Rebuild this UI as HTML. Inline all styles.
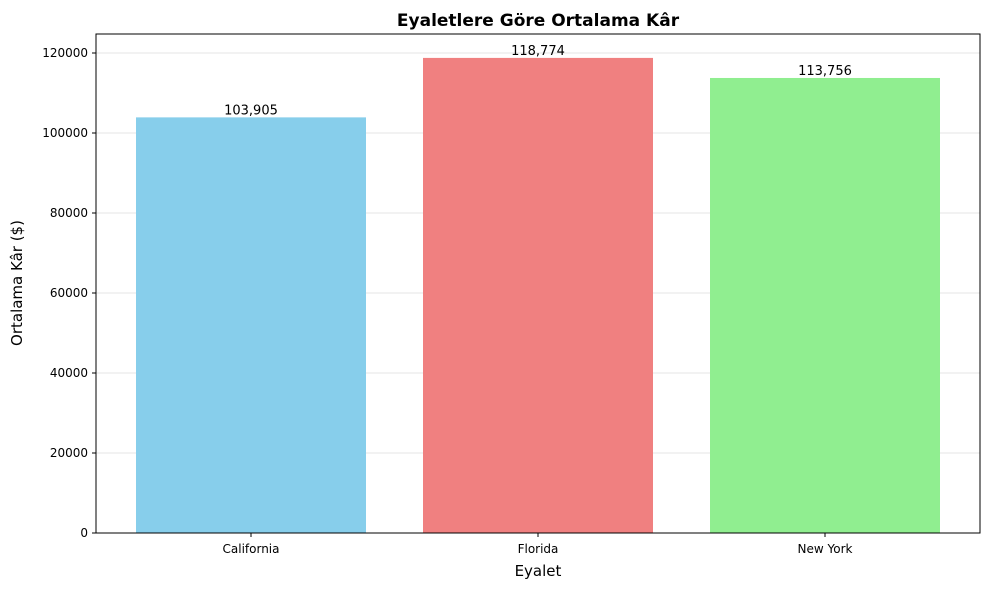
<!DOCTYPE html>
<html><head><meta charset="utf-8"><style>
body{margin:0;background:#fff;}
svg text{font-family:"DejaVu Sans","Liberation Sans",sans-serif;}
</style></head><body>
<svg width="989" height="590" xmlns="http://www.w3.org/2000/svg">
<text x="538" y="26" text-anchor="middle" font-size="17" font-weight="bold">Eyaletlere Göre Ortalama Kâr</text>
<g id="grid"></g>
<g id="bars"></g>
<rect x="96" y="34" width="884" height="499" fill="none" stroke="#000" stroke-width="1"/>
<g id="yaxis" font-size="12"></g>
<g id="xaxis" font-size="12"></g>
<text x="538" y="576" text-anchor="middle" font-size="15">Eyalet</text>
<text transform="translate(22,283) rotate(-90)" text-anchor="middle" font-size="15">Ortalama Kâr ($)</text>
</svg>
<script>
const categories=["California","Florida","New York"];
const values=[103905,118774,113756];
const valueLabels=["103,905","118,774","113,756"];
const yTicks=[0,20000,40000,60000,80000,100000,120000];
const colors=["#87CEEB","#F08080","#90EE90"];
const NS="http://www.w3.org/2000/svg";
function y(v){return 533-v*480/120000;}
function x(i){return 251+287*i;}
const bw=230;
const grid=document.getElementById('grid'),bars=document.getElementById('bars'),ya=document.getElementById('yaxis'),xa=document.getElementById('xaxis');
function mk(tag,attrs,parent){const e=document.createElementNS(NS,tag);for(const k in attrs)e.setAttribute(k,attrs[k]);parent.appendChild(e);return e;}
yTicks.forEach(t=>{
  const g=mk('line',{x1:96,x2:980,y1:y(t),y2:y(t),stroke:'#e6e6e6','stroke-width':1},grid);
  
  
  const tk=mk('line',{x1:92,x2:96,y1:y(t),y2:y(t),stroke:'#000'},ya);
  
  
  const tx=mk('text',{x:88,y:y(t)+4,'text-anchor':'end'},ya);
  tx.textContent=t;
  
  
});
categories.forEach((c,i)=>{
  const r=mk('rect',{x:x(i)-bw/2,y:y(values[i]),width:bw,height:533-y(values[i]),fill:colors[i]},bars);
  
  
  const l=mk('text',{x:x(i),y:y(values[i])-3,'text-anchor':'middle','font-size':13},bars);
  l.textContent=valueLabels[i];
  
  
  const tk=mk('line',{x1:x(i),x2:x(i),y1:533,y2:537,stroke:'#000'},xa);
  
  
  const tx=mk('text',{x:x(i),y:553,'text-anchor':'middle'},xa);
  tx.textContent=c;
  
  
});
</script>
</body></html>
